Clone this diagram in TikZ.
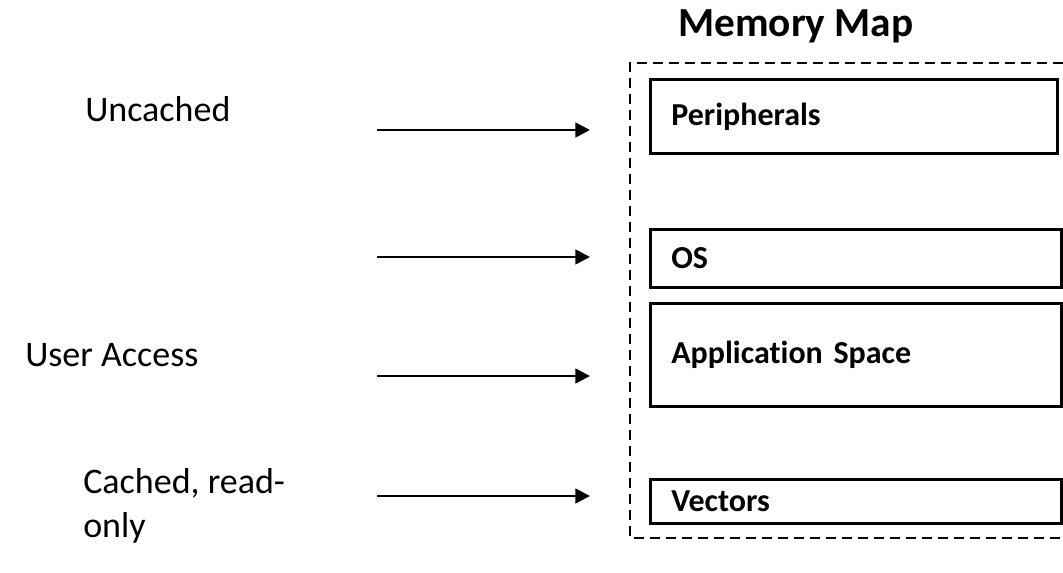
\documentclass[tikz,border=0pt]{standalone}
\usepackage{fontspec}
\setmainfont{Carlito}[Ligatures=NoCommon]
\usetikzlibrary{arrows.meta}
\begin{document}
\begin{tikzpicture}[x=0.75pt,y=-0.75pt,
  sidelabel/.style={font=\fontsize{27}{33}\selectfont, inner sep=0pt, align=left},
  region/.style={draw, line width=2pt, anchor=north west, inner xsep=15.75pt,
    inner ysep=0pt, align=left, font=\bfseries\fontsize{24}{29}\selectfont},
  flow/.style={-{Triangle[length=11pt,width=11pt]}, line width=2pt},
  frame/.style={dash pattern=on 7.5pt off 4.5pt, line width=1.5pt}]
\useasboundingbox (0,0) rectangle (1063,573);

% title and dashed outline of the address space
\node[anchor=base west, inner sep=0pt, font=\bfseries\fontsize{31}{37}\selectfont] (title) at (678,37) {Memory Map};
\draw[frame] (1063,63) -- (630,63) -- (630,538) -- (1063,538);

% memory regions
\node[region, minimum width=305.25pt, text width=273.75pt, minimum height=55.5pt] (per) at (649,78) {Peripherals};
\node[region, minimum width=308.25pt, text width=276.75pt, minimum height=43.5pt] (os) at (649,228) {OS};
\node[region, minimum width=308.25pt, text width=276.75pt, minimum height=77.25pt] (app) at (649,302) {Application Space};
\node[region, minimum width=308.25pt, text width=276.75pt, minimum height=33pt] (vec) at (649,478) {Vectors};

% access attributes
\node[sidelabel, anchor=base west] (unc) at (85,122) {Uncached};
\node[sidelabel, anchor=base west] (usr) at (25,366) {User Access};
\node[sidelabel, anchor=north west] (cro) at (83,468) {Cached, read-\\only};

% arrows pointing at the regions
\coordinate (s1) at (377,130); \coordinate (e1) at (590,130);
\coordinate (s2) at (377,257); \coordinate (e2) at (590,257);
\coordinate (s3) at (377,376); \coordinate (e3) at (590,376);
\coordinate (s4) at (377,496); \coordinate (e4) at (590,496);
\draw[flow] (s1) -- (e1);
\draw[flow] (s2) -- (e2);
\draw[flow] (s3) -- (e3);
\draw[flow] (s4) -- (e4);
\end{tikzpicture}
\end{document}
